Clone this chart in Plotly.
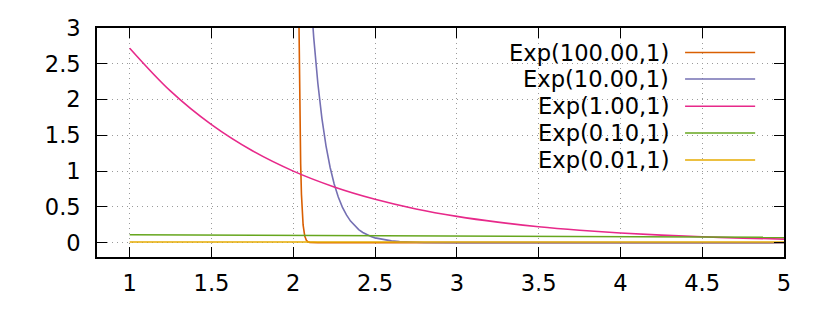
import plotly.graph_objects as go

# ---- data ----
labels = ["Exp(100.00,1)", "Exp(10.00,1)", "Exp(1.00,1)", "Exp(0.10,1)", "Exp(0.01,1)"]
colors = ["#d95f02", "#7570b3", "#e7298a", "#66a61e", "#e6ab02"]

x_100 = [2.02, 2.025, 2.03, 2.0325, 2.035, 2.04, 2.045, 2.05, 2.055, 2.06, 2.07, 2.08, 2.09, 2.10, 2.15, 2.2, 5.0]
y_100 = [13.53, 8.21, 4.979, 3.877, 3.020, 1.832, 1.111, 0.674, 0.409, 0.248, 0.0912, 0.0335, 0.0123, 0.0045, 0.00003, 0.0, 0.0]

x_10 = [2.1, 2.12, 2.125, 2.15, 2.175, 2.2, 2.225, 2.25, 2.275, 2.3, 2.325, 2.35, 2.375, 2.4, 2.425, 2.45,
        2.475, 2.5, 2.55, 2.6, 2.65, 2.7, 2.8, 3.0, 3.5, 5.0]
y_10 = [3.679, 3.012, 2.865, 2.231, 1.738, 1.353, 1.054, 0.821, 0.639, 0.498, 0.388, 0.302, 0.235, 0.183, 0.143, 0.111,
        0.0865, 0.0674, 0.0409, 0.0248, 0.0150, 0.00912, 0.00335, 0.00045, 0.000003, 0.0]

x_1 = [1.0, 1.25, 1.5, 1.75, 2.0, 2.25, 2.5, 2.75, 3.0, 3.25, 3.5, 3.75, 4.0, 4.25, 4.5, 4.75, 5.0]
y_1 = [2.718, 2.117, 1.649, 1.284, 1.000, 0.779, 0.607, 0.472, 0.368, 0.287, 0.223, 0.174, 0.135, 0.105, 0.082, 0.064, 0.050]

x_01 = [1.0, 2.0, 3.0, 4.0, 5.0]
y_01 = [0.1105, 0.1000, 0.0905, 0.0819, 0.0741]

x_001 = [1.0, 2.0, 3.0, 4.0, 5.0]
y_001 = [0.0101, 0.0100, 0.0099, 0.0098, 0.0097]

x_ticks = [1, 1.5, 2, 2.5, 3, 3.5, 4, 4.5, 5]
x_ticklabels = ["1", "1.5", "2", "2.5", "3", "3.5", "4", "4.5", "5"]
y_ticks = [0, 0.5, 1, 1.5, 2, 2.5, 3]
y_ticklabels = ["0", "0.5", "1", "1.5", "2", "2.5", "3"]

series = [(x_100, y_100), (x_10, y_10), (x_1, y_1), (x_01, y_01), (x_001, y_001)]

FONT = "DejaVu Sans"
FS = 22.6
fig = go.Figure()
for (xs, ys), name, c in zip(series, labels, colors):
    shape = "spline" if name == "Exp(1.00,1)" else "linear"
    fig.add_trace(go.Scatter(x=xs, y=ys, mode="lines", name=name,
                             line=dict(color=c, width=1.6, shape=shape),
                             showlegend=False, hoverinfo="skip"))

# gnuplot-style legend: right-aligned text with line sample on its right
leg_y = [0.893, 0.777, 0.658, 0.5416, 0.4234]
for name, c, yy in zip(labels, colors, leg_y):
    fig.add_annotation(xref="paper", yref="paper", x=0.836, y=yy, text=name,
                       showarrow=False, xanchor="right", yanchor="middle",
                       font=dict(family=FONT, size=FS, color="black"))
    fig.add_shape(type="line", xref="paper", yref="paper", x0=0.856, x1=0.958, y0=yy, y1=yy,
                  line=dict(color=c, width=1.6))

axis_common = dict(showline=True, linecolor="black", linewidth=1.5, mirror="ticks",
                   ticks="inside", ticklen=10, tickwidth=1.2, tickcolor="black",
                   showgrid=True, gridcolor="#9a9a9a", gridwidth=1, griddash="1px,4px",
                   zeroline=False, automargin=False,
                   tickfont=dict(family=FONT, size=FS, color="black"))

fig.update_xaxes(range=[0.8, 5], tickvals=x_ticks, ticktext=x_ticklabels, ticklabelstandoff=5, **axis_common)
fig.update_yaxes(range=[-0.2, 3], tickvals=y_ticks, ticktext=y_ticklabels, ticklabelstandoff=10, **axis_common)

# page body adds an 8px offset, so margins are shifted to keep the frame at 97..784 x 28..257
fig.update_layout(width=830, height=312, margin=dict(l=89, r=54, t=20, b=63),
                  paper_bgcolor="white", plot_bgcolor="white", showlegend=False,
                  font=dict(family=FONT, size=FS, color="black"))

fig.write_html("out.html")
